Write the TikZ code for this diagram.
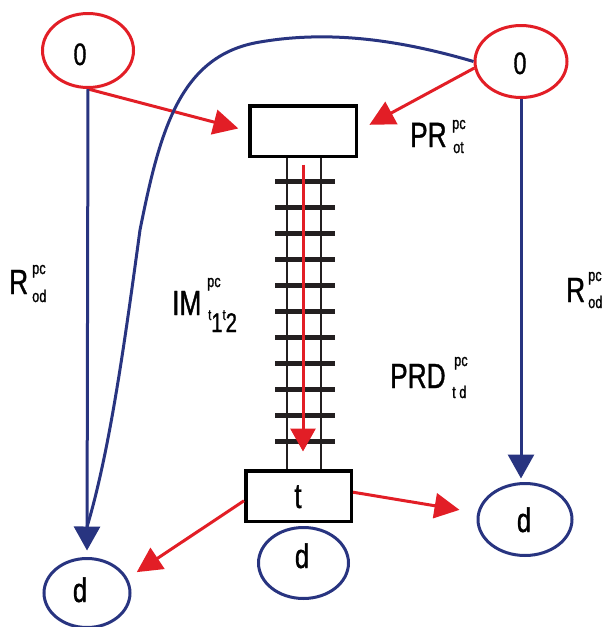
\documentclass[tikz,border=0pt]{standalone}
\usepackage{fontspec}
\setmainfont[FakeStretch=0.75,FakeBold=1]{Liberation Sans}
\usetikzlibrary{arrows.meta,shapes.geometric}
\definecolor{pnred}{RGB}{226,30,38}
\definecolor{pnblue}{RGB}{40,52,128}
\definecolor{pnblack}{RGB}{35,31,32}
\begin{document}
\begin{tikzpicture}[x=1pt,y=-1pt,
  place/.style={ellipse, draw, line width=3pt, inner sep=0pt},
  oplace/.style={place, draw=pnred},
  dplace/.style={place, draw=pnblue},
  trans/.style={rectangle, draw=black, line width=3.5pt, inner sep=0pt},
  redarc/.style={draw=pnred, line width=3pt, -{Triangle[length=25pt,width=25pt]}},
  redflow/.style={draw=pnred, line width=3pt, -{Triangle[length=23pt,width=25pt]}},
  bluearc/.style={draw=pnblue, line width=3pt, -{Triangle[length=24pt,width=26pt]}},
  bluecurve/.style={draw=pnblue, line width=3pt},
  rail/.style={draw=pnblack, line width=2.5pt},
  tie/.style={draw=pnblack, line width=5pt},
  big/.style={font=\fontsize{35}{35}\selectfont, inner sep=0pt, anchor=base west},
  small/.style={font=\fontsize{17}{17}\selectfont, inner sep=0pt, anchor=base west},
  tok/.style={inner sep=0pt, anchor=base}
]
\useasboundingbox (0,0) rectangle (605,627);

% places and transitions
\node[oplace, minimum width=91pt, minimum height=74pt] (o1) at (88,50.5) {};
\node[oplace, minimum width=92pt, minimum height=72pt] (o2) at (521,61.5) {};
\node[dplace, minimum width=86pt, minimum height=69pt] (d1) at (87,593) {};
\node[dplace, minimum width=90pt, minimum height=71pt] (d2) at (303.5,563) {};
\node[dplace, minimum width=94pt, minimum height=72pt] (d3) at (525,519.5) {};
\node[trans, minimum width=106.5pt, minimum height=50.5pt] (pt) at (303,131) {};
\node[trans, minimum width=105.5pt, minimum height=50.5pt] (tt) at (298.5,496) {};

% texts in places
\node[tok, font=\fontsize{31}{31}\selectfont] (o1l) at (80,65) {0};
\node[tok, font=\fontsize{31}{31}\selectfont] (o2l) at (520,74) {0};
\node[tok, font=\fontsize{34}{34}\selectfont] (d1l) at (80,602) {d};
\node[tok, font=\fontsize{34}{34}\selectfont] (d2l) at (302,568) {d};
\node[tok, font=\fontsize{34}{34}\selectfont] (d3l) at (524,532) {d};
\node[tok, font=\fontsize{35}{35}\selectfont] (ttl) at (298,508) {t};

% rails and ties
\draw[rail] ([xshift=-16pt]pt.south) -- ([xshift=-16pt]pt.south |- tt.north);
\draw[rail] ([xshift=18pt]pt.south) -- ([xshift=18pt]pt.south |- tt.north);
\foreach \k in {0,...,10}
  \draw[tie] (275,{181.7+26*\k}) -- (335,{181.7+26*\k});

% connectors
\draw[redarc, shorten >=10pt] (o1.south) -- (pt.west);
\draw[redarc, shorten >=13pt] (o2.188) -- (pt.east);
\draw[bluearc, shorten >=6.5pt] (o1.south) -- (d1.north);
\draw[bluearc, shorten >=3.5pt] (o2.south) -- (o2.south |- d3.north);
\coordinate (merge) at (87,527);
\draw[bluecurve] (o2.west) .. controls (400,40) and (330,30) .. (260,42)
  .. controls (180,55) and (160,130) .. (140,230)
  .. controls (125,340) and (110,450) .. (merge);
\draw[redflow, shorten <=6.5pt, shorten >=17.5pt] (pt.south) -- (pt.south |- tt.north);
\draw[redarc, shorten >=11pt] (tt.185) -- (d1.20);
\draw[redarc, shorten >=18pt] (tt.4) -- (d3.172);

% labels
\node[big] (lR) at (9,294) {R};
\node[small] (lRs) at (32,274) {pc};
\node[small] (lRb) at (32,302) {od};
\node[big] (rR) at (566,302) {R};
\node[small] (rRs) at (588,281) {pc};
\node[small] (rRb) at (588,308) {od};
\node[big] (pr) at (410,147) {PR};
\node[small] (prs) at (452,129) {pc};
\node[small] (prb) at (453,153) {ot};
\node[big] (prd) at (390,388) {PRD};
\node[small] (prds) at (454,366) {pc};
\node[small] (prdb) at (452,398) {t d};
\node[big] (im) at (172,315) {IM};
\node[small] (ims) at (207,287) {pc};
\node[inner sep=0pt, anchor=base west] (imb) at (208,332) {\fontsize{15}{15}\selectfont\raisebox{12pt}{t}\fontsize{27}{27}\selectfont 1\fontsize{15}{15}\selectfont\raisebox{12pt}{t}\fontsize{27}{27}\selectfont 2};
\end{tikzpicture}
\end{document}
